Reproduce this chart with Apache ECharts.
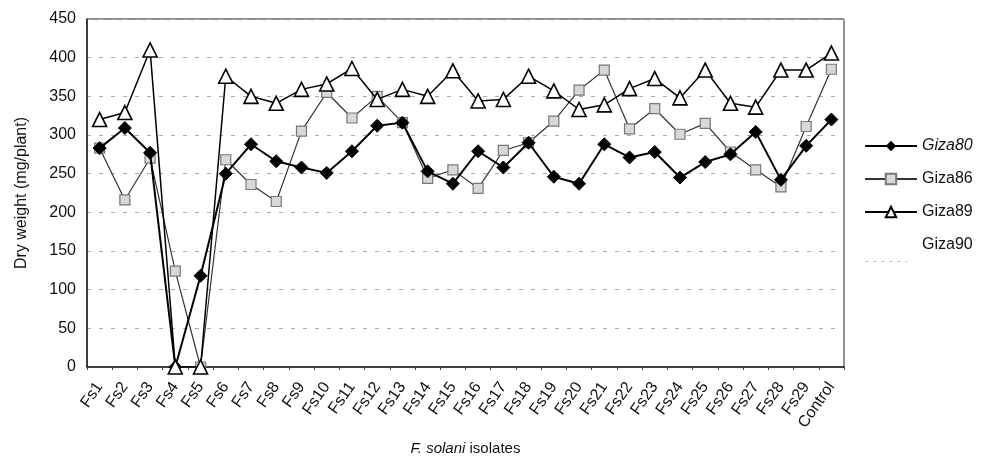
<!DOCTYPE html>
<html><head><meta charset="utf-8">
<script src="https://cdn.jsdelivr.net/npm/echarts@6/dist/echarts.min.js"></script>
<style>html,body{margin:0;padding:0;background:#fff}#c{width:986px;height:462px}</style>
</head><body><div id="c"></div>
<script>
const categories = ['Fs1','Fs2','Fs3','Fs4','Fs5','Fs6','Fs7','Fs8','Fs9','Fs10','Fs11','Fs12','Fs13','Fs14','Fs15','Fs16','Fs17','Fs18','Fs19','Fs20','Fs21','Fs22','Fs23','Fs24','Fs25','Fs26','Fs27','Fs28','Fs29','Control'];
const giza80 = [283,309,277,0,118,250,288,266,258,251,279,312,316,253,237,279,258,290,246,237,288,271,278,245,265,275,304,242,286,320];
const giza86 = [283,216,270,124,0,268,236,214,305,355,322,350,316,244,255,231,280,290,318,358,384,308,334,301,315,278,255,233,311,385];
const giza89 = [320,329,410,0,0,376,350,341,359,366,386,346,359,350,383,344,346,376,357,333,339,360,373,348,384,341,336,384,384,406];
const giza90 = categories.map(() => null);
const yTicks = {min: 0, max: 450, interval: 50};

const chart = echarts.init(document.getElementById('c'));
const font = 'Liberation Sans, Arial, sans-serif';
chart.setOption({
  animation: false,
  backgroundColor: '#fff',
  grid: {left: 87, right: 142, top: 19, bottom: 95, show: true, borderColor: '#222', borderWidth: 1},
  legend: {
    orient: 'vertical', left: 859, top: 133, itemWidth: 52, itemHeight: 13, itemGap: 17,
    textStyle: {fontFamily: font, fontSize: 16, color: '#111', rich: {i: {fontStyle: 'italic', fontFamily: font, fontSize: 16, color: '#111'}}},
    formatter: n => n === 'Giza80' ? '{i|' + n + '}' : n,
    data: ['Giza80', 'Giza86', 'Giza89', {name: 'Giza90', itemStyle: {opacity: 0}, lineStyle: {opacity: 0}}]
  },
  graphic: [{type: 'line', left: 863, top: 259, shape: {x1: 0, y1: 0, x2: 42, y2: 0},
             style: {stroke: '#bbb', lineWidth: 1, lineDash: [3, 5]}}],
  xAxis: {
    type: 'category', data: categories, boundaryGap: true,
    axisLine: {lineStyle: {color: '#222', width: 1.5}},
    axisTick: {show: true, length: 3, lineStyle: {color: '#444'}},
    axisLabel: {rotate: 55, interval: 0, fontFamily: font, fontSize: 16, color: '#111', margin: 17},
    name: '{i|F. solani} isolates', nameLocation: 'middle', nameGap: 74,
    nameTextStyle: {fontFamily: font, fontSize: 15, color: '#111', rich: {i: {fontStyle: 'italic', fontFamily: font, fontSize: 15, color: '#111'}}}
  },
  yAxis: {
    type: 'value', min: yTicks.min, max: yTicks.max, interval: yTicks.interval,
    axisLine: {show: true, lineStyle: {color: '#222', width: 1.5}},
    axisTick: {show: false},
    axisLabel: {fontFamily: font, fontSize: 16, color: '#111', margin: 11},
    splitLine: {show: true, lineStyle: {color: '#aaa', type: [4, 8], width: 1}},
    name: 'Dry weight (mg/plant)', nameLocation: 'middle', nameGap: 57, nameRotate: 90,
    nameTextStyle: {fontFamily: font, fontSize: 16, color: '#111'}
  },
  series: [
    {name: 'Giza80', type: 'line', data: giza80, symbol: 'diamond', symbolSize: 13,
     lineStyle: {color: '#000', width: 2}, itemStyle: {color: '#000', borderColor: '#000'}, z: 4},
    {name: 'Giza86', type: 'line', data: giza86, symbol: 'rect', symbolSize: 10,
     lineStyle: {color: '#333', width: 1.2}, itemStyle: {color: '#d8d8d8', borderColor: '#777', borderWidth: 1.2}, z: 3},
    {name: 'Giza89', type: 'line', data: giza89, symbol: 'triangle', symbolSize: 14,
     lineStyle: {color: '#000', width: 1.5}, itemStyle: {color: '#fff', borderColor: '#000', borderWidth: 1.6}, z: 5},
    {name: 'Giza90', type: 'line', data: giza90, symbol: 'none',
     lineStyle: {color: '#ccc', width: 1, type: 'dashed'}, itemStyle: {color: '#ccc'}, z: 2}
  ]
});
</script></body></html>
